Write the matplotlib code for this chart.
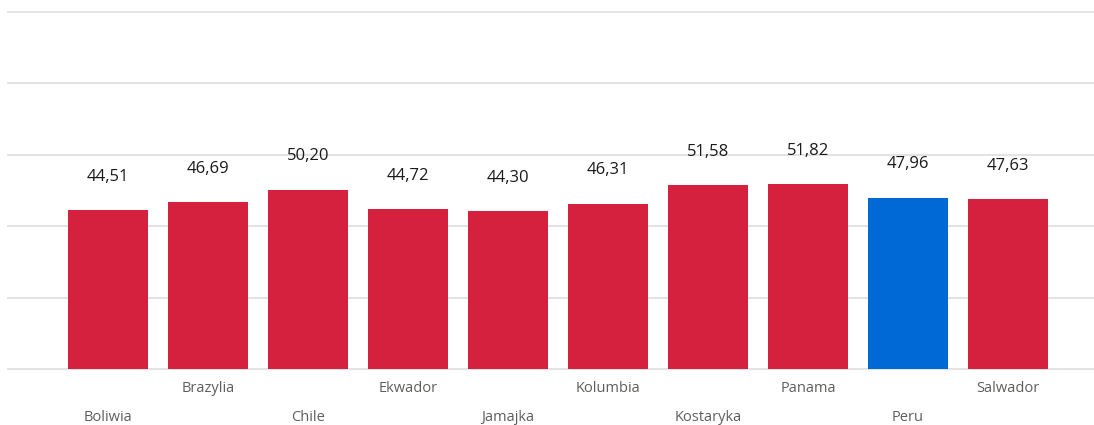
import matplotlib.pyplot as plt
from matplotlib.transforms import offset_copy

# data
countries = ['Boliwia', 'Brazylia', 'Chile', 'Ekwador', 'Jamajka', 'Kolumbia',
             'Kostaryka', 'Panama', 'Peru', 'Salwador']
values = [44.51, 46.69, 50.20, 44.72, 44.30, 46.31, 51.58, 51.82, 47.96, 47.63]
highlight = 'Peru'

red = '#D5213D'
blue = '#0069D6'
colors = [blue if c == highlight else red for c in countries]

fig = plt.figure(figsize=(10.94, 4.25), dpi=100)
ax = fig.add_axes([8 / 1094, 56 / 425, 1 - 8 / 1094, 357 / 425])

x = list(range(len(countries)))
ax.bar(x, values, width=0.8, color=colors, zorder=3)

ax.set_ylim(0, 100)
ax.set_xlim(-1.0, 9.86)
for y in [0, 20, 40, 60, 80, 100]:
    ax.axhline(y, color='#E3E3E3', linewidth=1.4, zorder=1, clip_on=False)

ax.set_xticks([])
ax.set_yticks([])
for s in ax.spines.values():
    s.set_visible(False)

# value labels
for xi, v in zip(x, values):
    ax.annotate(f'{v:.2f}'.replace('.', ','), (xi, v), xytext=(0, 24),
                textcoords='offset points', ha='center', va='center',
                fontsize=12, color='#1A1A1A', family='Open Sans')

# staggered category labels
trans = ax.get_xaxis_transform()
for xi, c in zip(x, countries):
    dy = -35 if xi % 2 == 0 else -14
    t = offset_copy(trans, fig=fig, x=0, y=dy, units='points')
    ax.text(xi, 0, c, transform=t, ha='center', va='center',
            fontsize=10.5, color='#605E5C', family='Open Sans')

fig.savefig('out.png', dpi=100)
